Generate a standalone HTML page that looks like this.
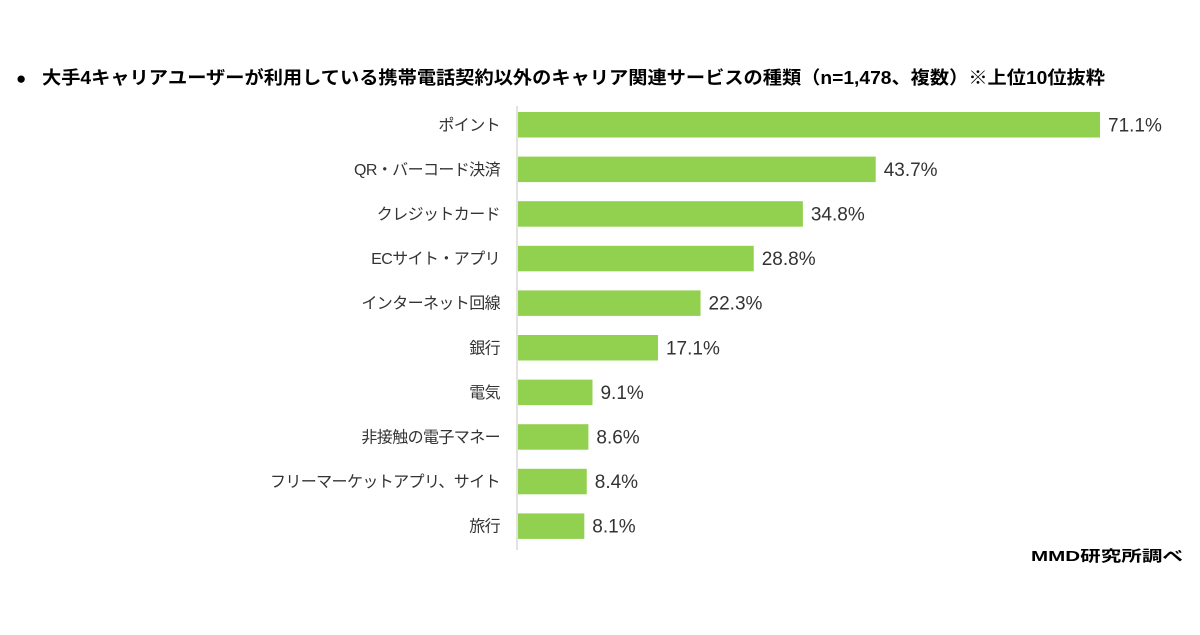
<!DOCTYPE html>
<html><head><meta charset="utf-8"><style>
body{margin:0;background:#fff;width:1200px;height:630px;overflow:hidden;font-family:"Liberation Sans","Noto Sans CJK JP",sans-serif}
</style></head><body>
<svg width="1200" height="630">
<text x="16" y="84" font-size="17" fill="#000">●</text>
<text x="42" y="84" font-size="18" font-weight="bold" fill="#000" textLength="1063" lengthAdjust="spacingAndGlyphs">大手4キャリアユーザーが利用している携帯電話契約以外のキャリア関連サービスの種類（n=1,478、複数）※上位10位抜粋</text>
<line x1="517" y1="106" x2="517" y2="550" stroke="#d9d9d9" stroke-width="1.5"/>
<g id="bars"></g>
<text x="1183" y="561" font-size="15" font-weight="bold" text-anchor="end" fill="#000" textLength="152" lengthAdjust="spacingAndGlyphs">MMD研究所調べ</text>
</svg>
<script>
const categories=["ポイント","QR・バーコード決済","クレジットカード","ECサイト・アプリ","インターネット回線","銀行","電気","非接触の電子マネー","フリーマーケットアプリ、サイト","旅行"];
const values=[71.1,43.7,34.8,28.8,22.3,17.1,9.1,8.6,8.4,8.1];
const labels=["71.1%","43.7%","34.8%","28.8%","22.3%","17.1%","9.1%","8.6%","8.4%","8.1%"];
const x0=518,scale=(1100-518)/71.1,top0=112,step=44.6,bh=25.5;
const xs=v=>x0+v*scale, ys=i=>top0+i*step;
const g=document.getElementById('bars'),NS="http://www.w3.org/2000/svg";
categories.forEach((c,i)=>{
 const r=document.createElementNS(NS,'rect');
 r.setAttribute('x',x0);r.setAttribute('y',ys(i));r.setAttribute('width',xs(values[i])-x0);r.setAttribute('height',bh);r.setAttribute('fill','#92d050');
 
 
 g.appendChild(r);
 const t=document.createElementNS(NS,'text');
 t.setAttribute('x',500);t.setAttribute('y',ys(i)+bh/2+5.5);t.setAttribute('text-anchor','end');t.setAttribute('font-size','16');t.setAttribute('fill','#333');t.setAttribute('letter-spacing','-0.6');t.textContent=c;
 
 
 g.appendChild(t);
 const v=document.createElementNS(NS,'text');
 v.setAttribute('x',xs(values[i])+8);v.setAttribute('y',ys(i)+bh/2+6.5);v.setAttribute('font-size','19');v.setAttribute('fill','#333');v.textContent=labels[i];
 
 
 g.appendChild(v);
});
</script>
</body></html>
